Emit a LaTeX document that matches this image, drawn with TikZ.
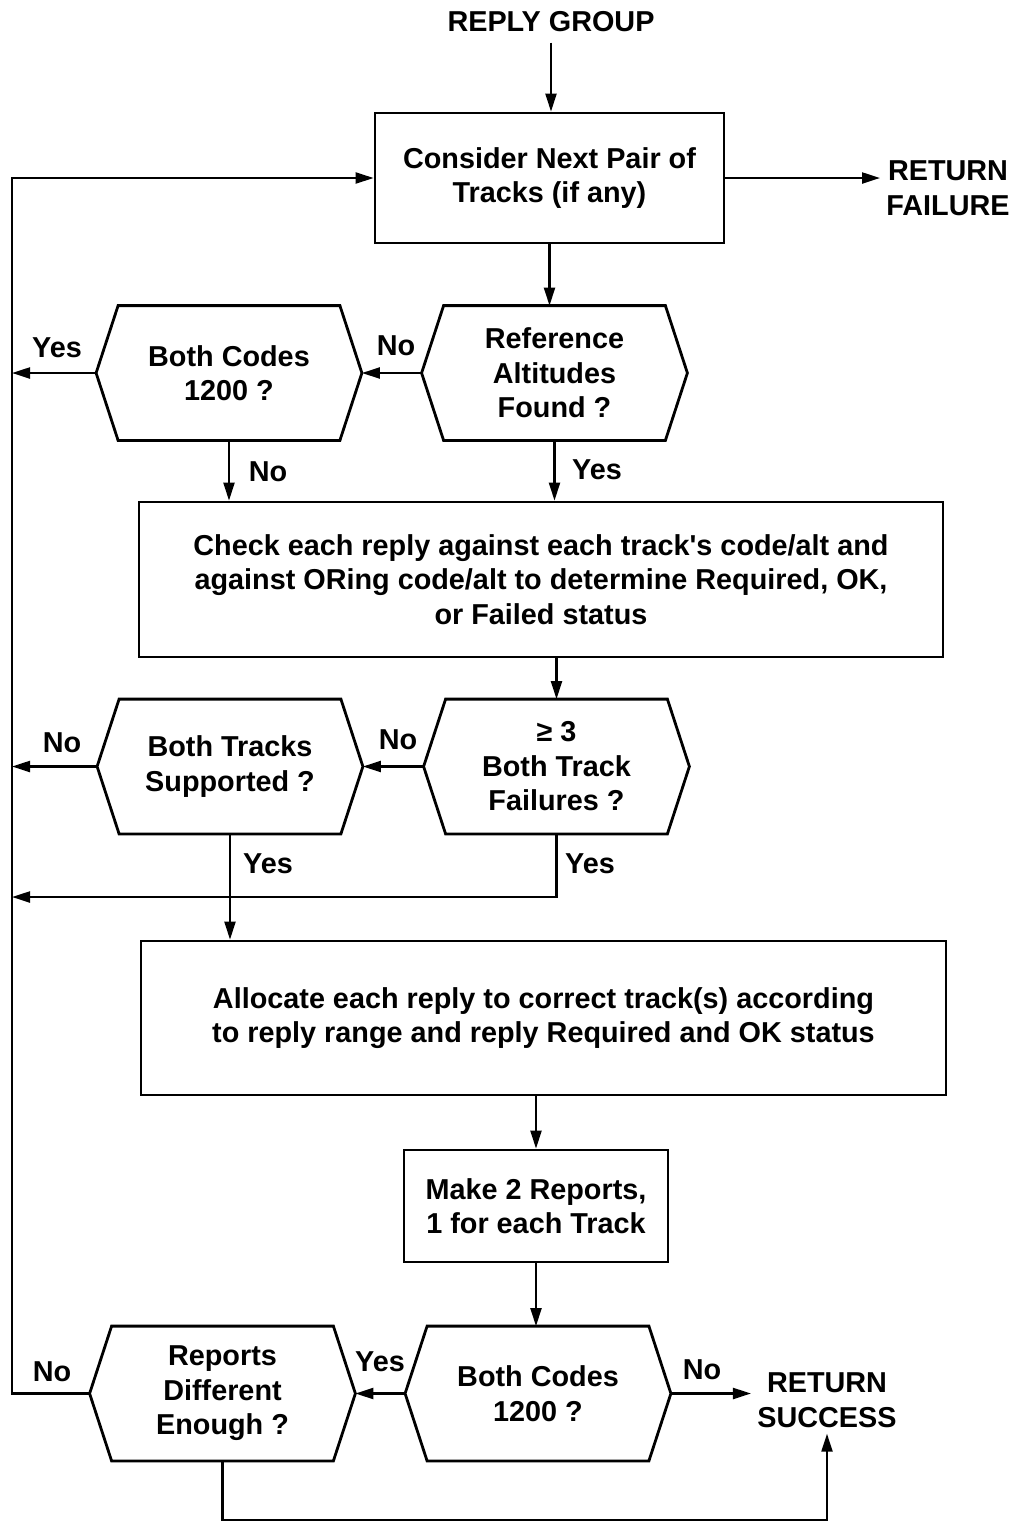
\documentclass[tikz,border=0pt]{standalone}
\usepackage{fontspec}
\setmainfont{Liberation Sans}[Ligatures=TeXOff]
\usetikzlibrary{arrows.meta,calc}
\begin{document}
\begin{tikzpicture}[x=0.5pt,y=-0.5pt,
  every node/.style={font=\fontsize{14.4}{17.25}\selectfont\bfseries, align=center, inner sep=0pt},
  procbox/.style={draw, line width=1.4pt},
  decision/.style={minimum width=132.5pt, minimum height=67pt},
  endtext/.style={inner sep=3pt},
  lbl/.style={},
  arr/.style={line width=1.1pt, -{Triangle[length=9pt,width=5.5pt]}},
  conn/.style={line width=1.1pt}]
\useasboundingbox (0,0) rectangle (1014,1522);

% hexagonal decision outline around a named node
\newcommand\hexdraw[1]{%
  \draw[line width=1.4pt] ($(#1.north west)+(22,0)$) -- ($(#1.north east)+(-22,0)$)
    -- (#1.east) -- ($(#1.south east)+(-22,0)$) -- ($(#1.south west)+(22,0)$)
    -- (#1.west) -- cycle;}

% terminals
\node[endtext, inner sep=5pt] (rg) at (551,22) {REPLY GROUP};
\node[endtext] (rf) at (948,188) {RETURN\\FAILURE};
\node[endtext] (rs) at (827,1400) {RETURN\\SUCCESS};

% process boxes
\node[procbox, minimum width=174.5pt, minimum height=65pt] (cons) at (549.5,178) {Consider Next Pair of\\Tracks (if any)};
\node[procbox, minimum width=402pt, minimum height=77.5pt] (chk) at (541,579.5)
  {Check each reply against each track's code/alt and\\against ORing code/alt to determine Required, OK,\\or Failed status};
\node[procbox, minimum width=402.5pt, minimum height=77pt] (alloc) at (543.5,1018)
  {Allocate each reply to correct track(s) according\\to reply range and reply Required and OK status};
\node[procbox, minimum width=132pt, minimum height=56pt] (mk) at (536,1206) {Make 2 Reports,\\1 for each Track};

% decisions
\node[decision] (ref) at (554.5,373) {Reference\\Altitudes\\Found ?};
\node[decision] (bc1) at (229,373) {Both Codes\\1200 ?};
\node[decision] (fail) at (556.5,766.5) {≥ 3\\Both Track\\Failures ?};
\node[decision] (bt) at (230,766.5) {Both Tracks\\Supported ?};
\node[decision] (bc2) at (538,1393.5) {Both Codes\\1200 ?};
\node[decision] (rd) at (222.5,1393.5) {Reports\\Different\\Enough ?};
\foreach \h in {ref,bc1,fail,bt,bc2,rd} {\hexdraw{\h}}

% loop-back rail on the left
\coordinate (lt) at (12,180);
\coordinate (lb) at (12,1393);
\coordinate (j) at (555,897);
\coordinate (bot) at (220,1520);

% connectors
\draw[arr] (rg.south) -- (rg.south |- cons.north);
\draw[arr] (cons.east) -- (cons.east -| rf.west);
\draw[arr] (cons.south) -- (cons.south |- ref.north);
\draw[arr] (ref.west) -- (bc1.east);
\draw[arr] (bc1.west) -- (bc1.west -| lt);
\draw[arr] (bc1.south) -- (bc1.south |- chk.north);
\draw[arr] (ref.south) -- (ref.south |- chk.north);
\draw[arr] (chk.south -| fail.north) -- (fail.north);
\draw[arr] (fail.west) -- (bt.east);
\draw[arr] (bt.west) -- (bt.west -| lt);
\draw[arr] (bt.south) -- (bt.south |- alloc.north);
\draw[arr] (fail.south) -- (fail.south |- j) -- (j -| lt);
\draw[arr] (alloc.south -| mk.north) -- (mk.north);
\draw[arr] (mk.south) -- (mk.south |- bc2.north);
\draw[arr] (bc2.west) -- (rd.east);
\draw[arr] (bc2.east) -- (bc2.east -| rs.west);
\draw[arr] (rd.west) -- (rd.west -| lb) -- (lt |- cons.west) -- (cons.west);
\draw[arr] (rd.south) -- (rd.south |- bot) -- (bot -| rs.south) -- (rs.south);

% branch labels
\node[lbl] (y1) at (57,348) {Yes};
\node[lbl] (n1) at (396,346) {No};
\node[lbl] (n2) at (268,472) {No};
\node[lbl] (y2) at (597,470) {Yes};
\node[lbl] (n3) at (62,743) {No};
\node[lbl] (n4) at (398,740) {No};
\node[lbl] (y3) at (268,864) {Yes};
\node[lbl] (y4) at (590,864) {Yes};
\node[lbl] (y5) at (380,1362) {Yes};
\node[lbl] (n5) at (52,1372) {No};
\node[lbl] (n6) at (702,1370) {No};
\end{tikzpicture}
\end{document}
